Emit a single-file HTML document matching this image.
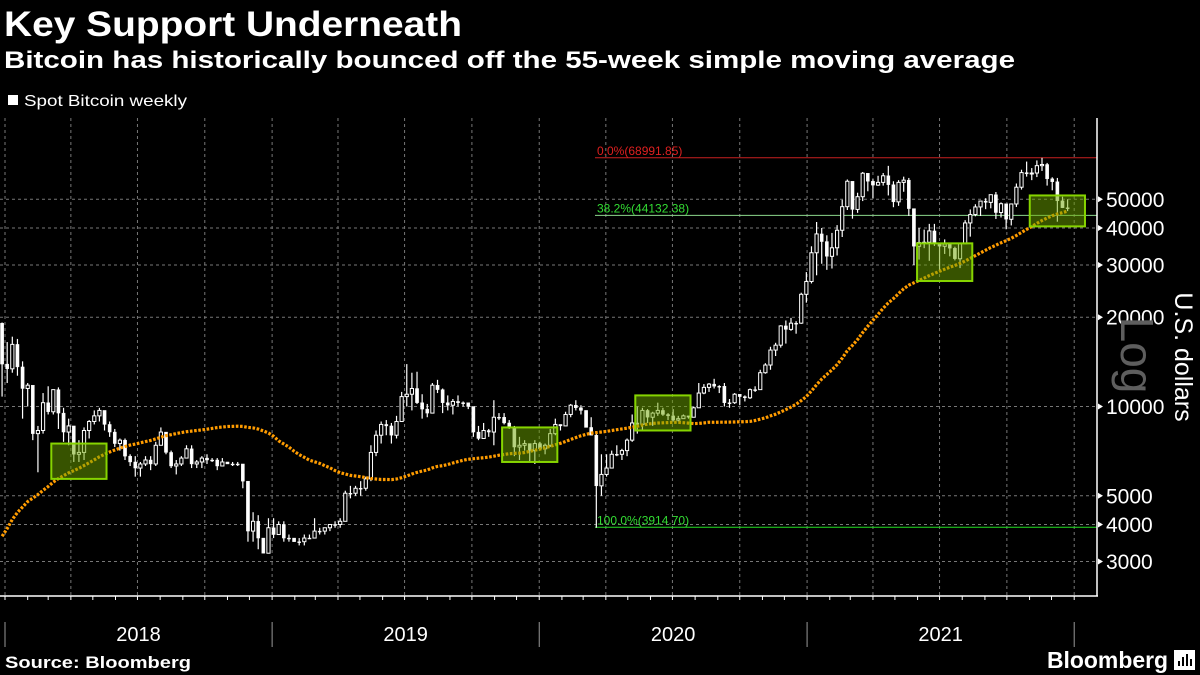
<!DOCTYPE html>
<html><head><meta charset="utf-8"><style>
html,body{margin:0;padding:0;background:#000;width:1200px;height:675px;overflow:hidden}
svg{display:block;font-family:"Liberation Sans",sans-serif}
</style></head><body>
<svg id="chart" width="1200" height="675" viewBox="0 0 1200 675" xmlns="http://www.w3.org/2000/svg">
<rect width="1200" height="675" fill="#000"/>
<text x="4" y="36" fill="#fff" font-size="35" font-weight="bold" textLength="458" lengthAdjust="spacingAndGlyphs">Key Support Underneath</text>
<text x="4" y="68" fill="#fff" font-size="24" font-weight="bold" textLength="1011" lengthAdjust="spacingAndGlyphs">Bitcoin has historically bounced off the 55-week simple moving average</text>
<g>
<rect x="8" y="95" width="10" height="10" fill="#fff"/>
<text x="24" y="106" fill="#fff" font-size="16" textLength="163" lengthAdjust="spacingAndGlyphs">Spot Bitcoin weekly</text>
</g>
<g id="grid"></g>
<g id="fib"></g>
<g id="candles"></g>
<g id="ma"></g>
<g id="boxes"></g>
<g id="axes"></g>
<text transform="translate(1121,355) rotate(90)" fill="#5e5e5e" font-size="46" text-anchor="middle">Log</text>
<text transform="translate(1175,357) rotate(90)" fill="#fff" font-size="25" text-anchor="middle">U.S. dollars</text>
<text x="5" y="668" fill="#fff" font-size="17" font-weight="bold" textLength="186" lengthAdjust="spacingAndGlyphs">Source: Bloomberg</text>
<g>
<text x="1047" y="668" fill="#fff" font-size="23" font-weight="bold" textLength="121" lengthAdjust="spacingAndGlyphs">Bloomberg</text>
<rect x="1174" y="650" width="21" height="20" fill="#fff"/>
<rect x="1178" y="661" width="2" height="5" fill="#000"/><rect x="1182" y="657" width="2" height="9" fill="#000"/><rect x="1186" y="654" width="2" height="12" fill="#000"/><rect x="1190" y="659" width="2" height="7" fill="#000"/>
</g>
</svg>
<script>
const yTicks=[50000,40000,30000,20000,10000,5000,4000,3000];
const years=["2018","2019","2020","2021"];
const fibLevels=[68991.85,44132.38,3914.70];
const fibLabels=["0.0%(68991.85)","38.2%(44132.38)","100.0%(3914.70)"];
const priorClose=[770,780,790,920,1000,900,820,920,920,1020,1000,1050,1180,1270,1240,1020,970,1080,1200,1170,1250,1350,1550,1750,2050,2100,2550,2650,2500,2600,2500,2550,1950,2750,2750,3250,4000,4100,4350,4600,4200,3700,3600,4300,4600,5700,6000,6100,7400,5900,8000,9700,11200,15000,19000];
const firstOpen=19100;
const closeV=[13900,13400,16200,13600,11500,11800,8100,8300,10300,9600,11400,9500,8200,8600,6900,7000,8300,8900,9300,9700,8700,8200,7500,7700,6800,6500,6200,6400,6600,6400,7400,8200,7000,6300,6400,6700,7200,6400,6500,6700,6600,6600,6300,6500,6400,6400,6400,5600,3800,4100,3600,3200,3900,3700,4000,3600,3600,3500,3500,3600,3600,3800,3800,3900,4000,4000,4100,5100,5100,5300,5300,5700,7000,8000,8700,8600,8000,8900,10800,11000,11500,10300,9800,9500,11800,11400,10300,10100,10400,10300,10300,10000,8200,7800,8300,8200,9200,9200,8800,8500,7300,7400,7500,7100,7500,7200,7400,8100,8700,8600,9400,10100,9900,9700,8500,8000,5400,5900,6200,6900,6900,7100,7700,8800,8700,9700,9200,9500,9700,9400,9300,9000,9100,9300,9200,9900,11100,11600,11900,11700,11700,10300,10300,11000,10800,10700,11400,11400,13000,13800,15500,16100,18700,18200,19100,19100,23900,26400,33000,38200,36000,32100,34300,39300,47200,57500,46200,51000,61200,57500,55800,57000,60000,56000,49000,57000,58000,46500,34700,35700,35800,39100,35500,34700,35300,34200,31500,35400,41600,44400,47100,49300,48800,51800,45100,48300,42800,48200,54900,61500,60900,61300,64900,65500,58600,57300,49400,46800,46700];
const highV=[19200,16500,17200,16900,14200,12000,11700,8600,11100,11700,11400,11600,9900,9100,8500,7700,8500,9000,9700,9900,9600,8900,8400,7800,7800,6900,6800,6500,6800,6800,7600,8500,8200,7100,6600,6800,7400,7400,6600,6800,6900,6700,6700,6700,6500,6500,6500,6400,5600,4400,4300,3600,4200,4200,4100,4100,3700,3600,3600,3700,3700,4200,3900,3900,4000,4100,4200,5200,5400,5400,5600,5800,7400,8300,8900,9000,8800,9300,11200,13900,13000,13100,11000,10200,12000,12300,11500,10900,10600,10900,10400,10300,10000,8600,8800,8400,10500,9500,9500,9000,8600,7900,7700,7500,7700,7600,7500,8400,9100,8700,9600,10200,10500,10100,9700,9200,8100,6900,6900,7100,7400,7200,7800,9400,10000,9900,9800,9600,10300,9900,9500,9800,9300,9400,9300,10000,12000,11900,12000,12400,11800,12000,10600,11100,10900,10900,11500,11700,13300,14000,15900,16400,18800,19500,19900,19400,24200,28400,34700,41900,40000,37800,38500,40900,49800,58300,57000,52600,61800,61200,58400,60000,61300,64800,57500,58000,59600,59000,46500,40000,39500,41300,41300,35600,36600,35100,34600,35400,42500,46200,48100,49300,50400,51800,52900,48800,48100,48400,56500,62900,67000,63700,67600,68990,66300,59300,59000,51000,50000];
const lowV=[10800,12000,13000,12700,9100,10000,7700,6000,8100,9400,9400,8400,7600,7400,6500,6500,6600,7800,8700,8900,8300,7900,7300,7100,6600,6300,5800,5800,6300,6100,6300,7400,6900,6200,5900,6300,6700,6200,6200,6200,6400,6500,6100,6400,6400,6300,6300,5300,3500,3500,3300,3200,3200,3600,3700,3500,3500,3500,3400,3400,3600,3600,3700,3700,3800,3900,3900,4100,4900,5000,5000,5200,5600,6800,7500,8000,7500,7800,8900,10000,9700,10200,9100,9200,9500,11100,9500,9700,9400,10000,10000,9800,7900,7700,7800,7900,7400,9000,8700,8400,6800,6600,7100,6500,6400,7100,6900,7300,8000,8300,8600,9200,9700,9400,8500,8000,3900,5000,5800,6200,6800,6600,6800,7600,8100,8300,8800,8600,9300,9300,9000,8900,8900,9100,9100,9200,10000,11000,11200,11500,11100,10000,9900,10200,10100,10400,10600,11200,11400,12900,13300,14800,15800,16300,18000,17600,19000,22400,26000,27700,30300,28900,29200,32300,37300,46000,43000,45000,49300,53200,50400,55500,55600,51500,47000,47500,53000,43900,30000,31300,34200,31000,34800,28800,32700,32100,31100,29300,35300,37400,43800,43900,46300,46600,42900,43400,39600,40800,47100,53900,59600,58000,59400,62300,55600,53600,42000,46700,45600];
const boxWeeks=[[10,20],[98,108],[124,134],[179,189],[201,211]];
const boxRange=[[5700,7500],[6500,8500],[8300,10900],[26500,35500],[40500,51500]];

const NS="http://www.w3.org/2000/svg";
function mk(tag,attrs,parent){const e=document.createElementNS(NS,tag);for(const k in attrs)e.setAttribute(k,attrs[k]);parent.appendChild(e);return e;}
const Y=v=>406.5-(Math.log10(v)-4)*296.5;
const XD=d=>5+d/365.25*267.3;
const XW=i=>XD(-14+7*i+10);
const PL=0,PR=1097,PT=118,PB=596;

const grid=document.getElementById('grid');
yTicks.forEach(v=>{const l=mk('line',{x1:PL,x2:PR,y1:Y(v),y2:Y(v),stroke:'#777','stroke-width':1,'stroke-dasharray':'3,3'},grid);

});
for(let q=0;q<17;q++){const yr=Math.floor(q/4),mo=(q%4)*3;const d=(Date.UTC(2018+yr,mo,1)-Date.UTC(2018,0,1))/864e5;const x=XD(d);if(x>PR)break;
const l=mk('line',{x1:x,x2:x,y1:PT,y2:PB,stroke:'#777','stroke-width':1,'stroke-dasharray':'3,3'},grid);

}

const fib=document.getElementById('fib');
const fibCol=['#c82020','#8cd88c','#22dd22'],fibTxt=['#e02020','#33dd33','#33dd33'];
fibLevels.forEach((v,i)=>{const y=Y(v);
const l=mk('line',{x1:595,x2:PR,y1:y,y2:y,stroke:fibCol[i],'stroke-width':1},fib);


const t=mk('text',{x:597,y:y-3,fill:fibTxt[i],'font-size':12},fib);t.textContent=fibLabels[i];

});

const cg=document.getElementById('candles');
closeV.forEach((c,i)=>{const o=i===0?firstOpen:closeV[i-1];const x=XW(i);
const w=mk('line',{x1:x,x2:x,y1:Y(highV[i]),y2:Y(lowV[i]),stroke:'#fff','stroke-width':1.2},cg);


const top=Y(Math.max(o,c)),bot=Y(Math.min(o,c));const up=c>o;
const r=mk('rect',{x:x-1.6,y:top,width:3.2,height:Math.max(1,bot-top),fill:up?'#000':'#fff',stroke:'#fff','stroke-width':up?1:0.4},cg);

});

const all=priorClose.concat(closeV);const off=priorClose.length;let pts=[];
closeV.forEach((c,i)=>{const s=all.slice(off+i-54,off+i+1);const m=s.reduce((a,b)=>a+b,0)/s.length;pts.push(XW(i).toFixed(1)+','+Y(m).toFixed(1));});
const ma=mk('polyline',{points:pts.join(' '),fill:'none',stroke:'#ff9c00','stroke-width':3.2,'stroke-dasharray':'2.6,1.6'},document.getElementById('ma'));



const bg=document.getElementById('boxes');
boxWeeks.forEach((b,i)=>{const x1=XW(b[0])-2,x2=XW(b[1])+2,y1=Y(boxRange[i][1]),y2=Y(boxRange[i][0]);
const r=mk('rect',{x:x1,y:y1,width:x2-x1,height:y2-y1,fill:'rgba(110,165,0,0.5)',stroke:'#86d400','stroke-width':2},bg);

});

const ax=document.getElementById('axes');
mk('line',{x1:PL,x2:PR+1,y1:PB,y2:PB,stroke:'#fff','stroke-width':1.5},ax);
mk('line',{x1:PR,x2:PR,y1:PT,y2:PB,stroke:'#fff','stroke-width':1.5},ax);
yTicks.forEach(v=>{const y=Y(v);mk('path',{d:`M${PR+1},${y-3} L${PR+6},${y} L${PR+1},${y+3}Z`,fill:'#fff'},ax);
const t=mk('text',{x:1106,y:y+7.5,fill:'#fff','font-size':21},ax);t.textContent=v;

});
for(let m=0;m<49;m++){const d=(Date.UTC(2018+Math.floor(m/12),m%12,1)-Date.UTC(2018,0,1))/864e5;const x=XD(d);if(x>PR)break;mk('line',{x1:x,x2:x,y1:PB,y2:PB+4,stroke:'#fff','stroke-width':1},ax);}
for(let k=0;k<=4;k++){const x=XD((Date.UTC(2018+k,0,1)-Date.UTC(2018,0,1))/864e5);mk('line',{x1:x,x2:x,y1:622,y2:647,stroke:'#999','stroke-width':1},ax);}
years.forEach((yr,k)=>{const x1=XD((Date.UTC(2018+k,0,1)-Date.UTC(2018,0,1))/864e5),x2=XD((Date.UTC(2019+k,0,1)-Date.UTC(2018,0,1))/864e5);
const t=mk('text',{x:(x1+x2)/2,y:641,fill:'#fff','font-size':20,'text-anchor':'middle'},ax);t.textContent=yr;

});
</script>
</body></html>
